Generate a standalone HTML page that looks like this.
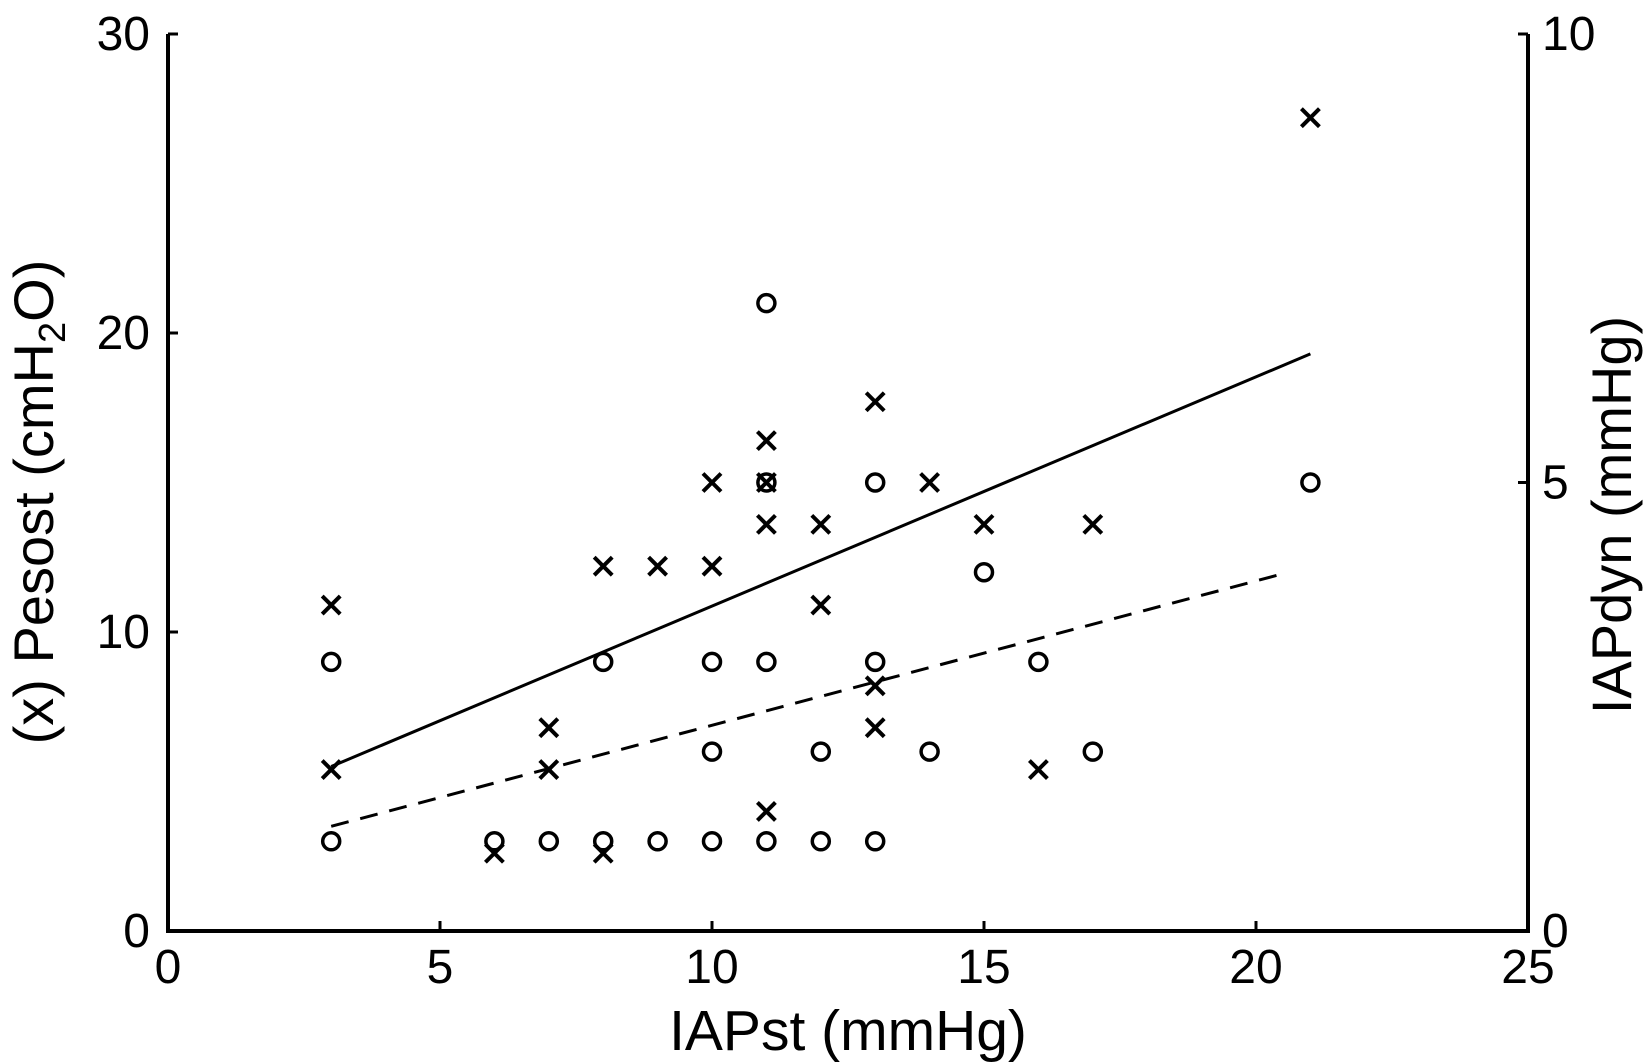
<!DOCTYPE html>
<html><head><meta charset="utf-8"><style>body{margin:0;background:#fff}svg{display:block}text{font-family:"Liberation Sans",Arial,sans-serif;fill:#000}</style></head>
<body>
<svg id="chart" width="1646" height="1062" viewBox="0 0 1646 1062" xmlns="http://www.w3.org/2000/svg"></svg>
<script>
const xTicks=[0,5,10,15,20,25];
const yLeftTicks=[0,10,20,30];
const yRightTicks=[0,5,10];
const crossX=[3,3,6,7,7,8,8,9,10,10,11,11,11,11,12,12,13,13,13,14,15,16,17,21];
const crossY=[10.9,5.4,2.6,6.8,5.4,12.2,2.6,12.2,15,12.2,16.4,15,13.6,4.0,13.6,10.9,17.7,8.2,6.8,15,13.6,5.4,13.6,27.2];
const circX=[3,3,6,7,8,8,9,10,10,10,11,11,11,11,12,12,13,13,13,14,15,16,17,21];
const circY=[3,1,1,1,3,1,1,3,2,1,7,5,3,1,2,1,5,3,1,2,4,3,2,5];
const solidLineX=[3,21];
const solidLineY=[5.5,19.3];
const dashLineX=[3,20.5];
const dashLineY=[3.5,11.95];
const svg=document.getElementById('chart');
const NS='http://www.w3.org/2000/svg';
const X0=168,X1=1528,YB=931,YT=34;
const sx=v=>X0+(X1-X0)*v/25;
const syL=v=>YB-(YB-YT)*v/30;
const syR=v=>YB-(YB-YT)*v/10;
function mk(tag,attrs,parent){const e=document.createElementNS(NS,tag);for(const k in attrs)e.setAttribute(k,attrs[k]);(parent||svg).appendChild(e);return e;}
let a=mk('path',{d:`M${X0} ${YT}V${YB}H${X1}V${YT}`,fill:'none',stroke:'#000','stroke-width':4});


xTicks.forEach(t=>{
 let l=mk('line',{x1:sx(t),x2:sx(t),y1:YB,y2:YB-10,stroke:'#000','stroke-width':3});
 
 
 let tx=mk('text',{x:sx(t),y:YB+52,'text-anchor':'middle','font-size':48});tx.textContent=t;
 
 
});
yLeftTicks.forEach(t=>{
 let l=mk('line',{x1:X0,x2:X0+10,y1:syL(t),y2:syL(t),stroke:'#000','stroke-width':3});
 
 
 let tx=mk('text',{x:X0-18,y:syL(t)+16,'text-anchor':'end','font-size':48});tx.textContent=t;
 
 
});
yRightTicks.forEach(t=>{
 let l=mk('line',{x1:X1,x2:X1-10,y1:syR(t),y2:syR(t),stroke:'#000','stroke-width':3});
 
 
 let tx=mk('text',{x:X1+14,y:syR(t)+16,'text-anchor':'start','font-size':48});tx.textContent=t;
 
 
});
let xt=mk('text',{x:(X0+X1)/2,y:1050,'text-anchor':'middle','font-size':57});xt.textContent='IAPst (mmHg)';


let yt=mk('text',{x:0,y:0,'text-anchor':'middle','font-size':56,transform:'translate(53,502) rotate(-90)'});
yt.innerHTML='(x) Pesost (cmH<tspan font-size="38" dy="12">2</tspan><tspan dy="-12">O)</tspan>';


let yr=mk('text',{x:0,y:0,'text-anchor':'middle','font-size':56,transform:'translate(1631,515) rotate(-90)'});yr.textContent='IAPdyn (mmHg)';


let sl=mk('line',{x1:sx(solidLineX[0]),y1:syL(solidLineY[0]),x2:sx(solidLineX[1]),y2:syL(solidLineY[1]),stroke:'#000','stroke-width':3});


let dl=mk('line',{x1:sx(dashLineX[0]),y1:syL(dashLineY[0]),x2:sx(dashLineX[1]),y2:syL(dashLineY[1]),stroke:'#000','stroke-width':3,'stroke-dasharray':'18 12'});


crossX.forEach((x,i)=>{
 const cx=sx(x),cy=syL(crossY[i]),r=9;
 let p=mk('path',{d:`M${cx-r} ${cy-r}L${cx+r} ${cy+r}M${cx-r} ${cy+r}L${cx+r} ${cy-r}`,stroke:'#000','stroke-width':4});
 
 
});
circX.forEach((x,i)=>{
 let c=mk('circle',{cx:sx(x),cy:syR(circY[i]),r:8.5,fill:'none',stroke:'#000','stroke-width':3.5});
 
 
});
</script>
</body></html>
